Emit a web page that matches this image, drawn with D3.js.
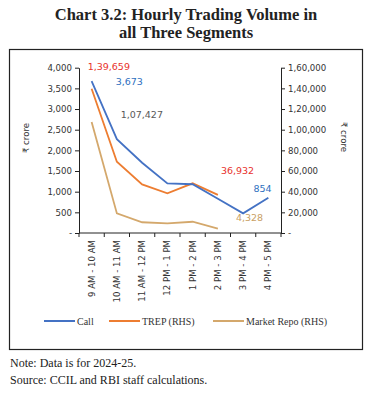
<!DOCTYPE html>
<html>
<head>
<meta charset="utf-8">
<script src="https://cdn.jsdelivr.net/npm/d3@7"></script>
<style>
  body { margin: 0; background: #fff; }
  svg { display: block; }
</style>
</head>
<body>
<svg id="chart" width="372" height="393"></svg>
<script>
// hourly slots
const slots = ["9 AM - 10 AM", "10 AM - 11 AM", "11 AM - 12 PM", "12 PM - 1 PM",
  "1 PM - 2 PM", "2 PM - 3 PM", "3 PM - 4 PM", "4 PM - 5 PM"]

// call money (LHS, ₹ crore)
const call = [3673, 2270, 1700, 1200, 1180, 830, 475, 854]
// TREP (RHS) - market closes after 2-3 PM
const trep = [139659, 69000, 47100, 38400, 48100, 36932]
// market repo (RHS)
const repo = [107427, 19000, 10400, 9400, 10900, 4328]

const leftTicks = [0, 500, 1000, 1500, 2000, 2500, 3000, 3500, 4000]
const rightTicks = [0, 20000, 40000, 60000, 80000, 100000, 120000, 140000, 160000]

const colors = { call: "#4472c4", trep: "#ed7d31", repo: "#d4a86c" }

const svg = d3.select("#chart")
const sans = "'DejaVu Sans', sans-serif"
const serif = "'Liberation Serif', serif"

// indian digit grouping, zero shown as "-"
function inr(v) {
  if (v == 0) return "-"
  var s = String(Math.round(v))
  if (s.length <= 3) return s
  var last = s.slice(-3)
  var rest = s.slice(0, -3).replace(/\B(?=(\d{2})+(?!\d))/g, ",")
  return rest + "," + last
}

// title
svg.append("text").attr("x", 186).attr("y", 20).attr("text-anchor", "middle")
  .style("font-family", serif).style("font-weight", "bold").style("font-size", "16.5px")
  .attr("fill", "#222").text("Chart 3.2: Hourly Trading Volume in")
svg.append("text").attr("x", 186).attr("y", 38).attr("text-anchor", "middle")
  .style("font-family", serif).style("font-weight", "bold").style("font-size", "16.5px")
  .attr("fill", "#222").text("all Three Segments")

// frame
svg.append("rect").attr("x", 9.5).attr("y", 49.5).attr("width", 353).attr("height", 300)
  .attr("fill", "none").attr("stroke", "#222").attr("stroke-width", 1.2)

const x = d3.scaleBand().domain(slots).range([79, 281])
const yL = d3.scaleLinear().domain([0, 4000]).range([233, 67.7])
const yR = d3.scaleLinear().domain([0, 160000]).range([233, 67.7])

// axes
const gL = svg.append("g").attr("transform", "translate(79,0)")
  .call(d3.axisLeft(yL).tickValues(leftTicks).tickFormat(inr).tickSize(4).tickSizeOuter(0))
const gR = svg.append("g").attr("transform", "translate(281,0)")
  .call(d3.axisRight(yR).tickValues(rightTicks).tickFormat(inr).tickSize(4).tickSizeOuter(0))
for (const g of [gL, gR]) {
  g.select(".domain").attr("stroke", "#222")
  g.selectAll(".tick line").attr("stroke", "#222")
  g.selectAll(".tick text").style("font-family", sans).style("font-size", "8.6px").attr("fill", "#333")
}

// x axis: ticks on band edges
const gX = svg.append("g").attr("transform", "translate(0,233)")
gX.append("line").attr("x1", 79).attr("x2", 281).attr("stroke", "#222")
const edges = slots.map(d => x(d)).concat([x.range()[1]])
gX.selectAll(".edge").data(edges).join("line").attr("class", "edge")
  .attr("x1", d => d).attr("x2", d => d).attr("y1", 0).attr("y2", 4).attr("stroke", "#222")
gX.selectAll(".lbl").data(slots).join("text").attr("class", "lbl")
  .attr("transform", d => "translate(" + (x(d) + x.bandwidth() / 2 + 3) + ",7) rotate(-90)")
  .attr("text-anchor", "end")
  .style("font-family", sans).style("font-size", "8.6px").attr("fill", "#333")
  .text(d => d)

// axis titles
svg.append("text").attr("transform", "translate(29,138) rotate(-90)").attr("text-anchor", "middle")
  .style("font-family", sans).style("font-size", "8.6px").attr("fill", "#333").text("₹ crore")
svg.append("text").attr("transform", "translate(341,137) rotate(90)").attr("text-anchor", "middle")
  .style("font-family", sans).style("font-size", "8.6px").attr("fill", "#333").text("₹ crore")

// lines
const cx = (d, i) => x(slots[i]) + x.bandwidth() / 2
const series = [
  { vals: repo, y: yR, color: colors.repo },
  { vals: trep, y: yR, color: colors.trep },
  { vals: call, y: yL, color: colors.call }
]
series.forEach(s => {
  svg.append("path").datum(s.vals)
    .attr("fill", "none").attr("stroke", s.color).attr("stroke-width", 1.8)
    .attr("d", d3.line().x(cx).y(d => s.y(d)))
})

// data labels
const labels = [
  { txt: inr(trep[0]), i: 0, y: yR(trep[0]), dx: -4, dy: -19, color: "#e8322c" },
  { txt: inr(call[0]), i: 0, y: yL(call[0]), dx: 24, dy: 4, color: "#2e6fc0" },
  { txt: inr(repo[0]), i: 0, y: yR(repo[0]), dx: 29, dy: -4, color: "#595959" },
  { txt: inr(trep[5]), i: 5, y: yR(trep[5]), dx: 3, dy: -21, color: "#e8322c" },
  { txt: inr(call[7]), i: 7, y: yL(call[7]), dx: -15, dy: -6, color: "#2e6fc0" },
  { txt: inr(repo[5]), i: 5, y: yR(repo[5]), dx: 18, dy: -8, color: "#c9a064" }
]
svg.selectAll(".dlbl").data(labels).join("text").attr("class", "dlbl")
  .attr("x", d => cx(null, d.i) + d.dx).attr("y", d => d.y + d.dy)
  .style("font-family", sans).style("font-size", "9.5px").attr("fill", d => d.color)
  .text(d => d.txt)

// legend
const legend = [
  { name: "Call", color: colors.call, x: 44 },
  { name: "TREP (RHS)", color: colors.trep, x: 109 },
  { name: "Market Repo (RHS)", color: colors.repo, x: 213 }
]
const lg = svg.selectAll(".leg").data(legend).join("g").attr("class", "leg")
  .attr("transform", d => "translate(" + d.x + ",321)")
lg.append("line").attr("x1", 0).attr("x2", 31).attr("stroke", d => d.color).attr("stroke-width", 2)
lg.append("text").attr("x", 33).attr("y", 3.5)
  .style("font-family", serif).style("font-size", "10px").attr("fill", "#333").text(d => d.name)

// notes
svg.append("text").attr("x", 10).attr("y", 367).style("font-family", serif).style("font-size", "12px")
  .attr("fill", "#222").text("Note: Data is for 2024-25.")
svg.append("text").attr("x", 10).attr("y", 384).style("font-family", serif).style("font-size", "12px")
  .attr("fill", "#222").text("Source: CCIL and RBI staff calculations.")
</script>
</body>
</html>
